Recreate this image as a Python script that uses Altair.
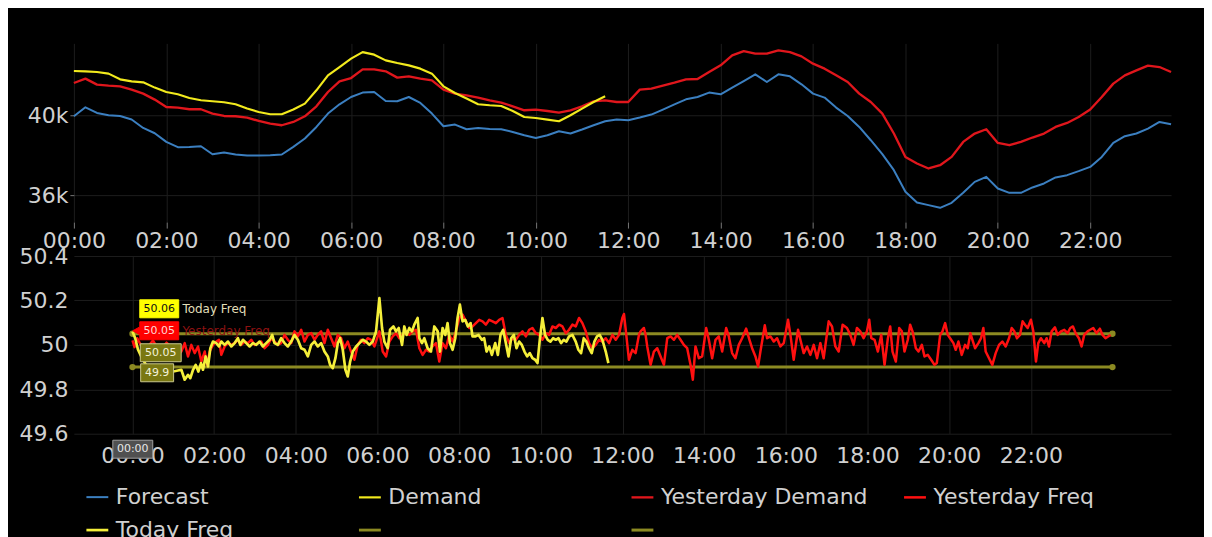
import altair as alt
import pandas as pd

FONT = "DejaVu Sans"
LBL = "#d0d0d0"
GRID = "#1d1d1d"

# ---------------- top panel: demand (15-minute steps from 00:00) ----------------
forecast = [
    39950, 40400, 40115, 40000, 39965, 39785, 39365, 39100, 38665, 38400, 38415, 38450,
    38050, 38135, 38035, 37985, 37985, 38000, 38035, 38415, 38835, 39415, 40085, 40550,
    40915, 41135, 41165, 40715, 40700, 40915, 40615, 40085, 39450, 39535, 39300, 39365,
    39315, 39300, 39165, 39000, 38865, 39000, 39200, 39085, 39285, 39500, 39700, 39785,
    39750, 39885, 40035, 40285, 40550, 40800, 40915, 41135, 41050, 41385, 41715, 42050,
    41665, 42050, 41950, 41550, 41085, 40885, 40385, 39965, 39415, 38750, 38050, 37250,
    36165, 35635, 35500, 35365, 35615, 36115, 36665, 36915, 36335, 36115, 36115, 36385,
    36585, 36885, 37000, 37200, 37415, 37915, 38615, 38950, 39085, 39335, 39665, 39550,
]
yesterday_demand = [
    41615, 41835, 41535, 41485, 41450, 41285, 41085, 40785, 40415, 40385, 40300, 40300,
    40085, 39965, 39950, 39885, 39715, 39585, 39500, 39665, 39950, 40450, 41165, 41700,
    41865, 42300, 42300, 42200, 41885, 41950, 41835, 41750, 41285, 41085, 41000, 40885,
    40750, 40635, 40450, 40250, 40285, 40215, 40135, 40250, 40450, 40700, 40750, 40665,
    40665, 41285, 41335, 41485, 41635, 41800, 41815, 42165, 42500, 43000, 43215, 43085,
    43085, 43250, 43165, 42950, 42585, 42335, 42000, 41665, 41085, 40665, 40085, 39085,
    37915, 37585, 37335, 37500, 37915, 38665, 39085, 39300, 38615, 38500, 38665, 38885,
    39085, 39415, 39615, 39915, 40285, 40915, 41585, 42000, 42250, 42485, 42415, 42165,
]
demand = [
    42215, 42200, 42165, 42085, 41800, 41700, 41650, 41385, 41165, 41050, 40865, 40750,
    40700, 40650, 40550, 40335, 40165, 40050, 40050, 40285, 40585, 41250, 42000, 42415,
    42835, 43165, 43035, 42750, 42615, 42500, 42335, 42085, 41450, 41115, 40835, 40550,
    40500, 40465, 40215, 39915, 39865, 39785, 39700, 40000, 40335, 40665, 40950,
]

# ---------------- bottom panel: frequency (minutes after 00:00, Hz) ----------------
yf_min = [
    0, 3, 7, 12, 20, 30, 40, 50, 60, 68,
    71.8, 76.7, 81.6, 86.5, 91.4, 96.3, 101.2, 106.1, 109.5, 113.4,
    118.3, 123.2, 127.1, 130.5, 135.4, 140.3, 145.2, 150.1, 154.9, 159.8,
    164.7, 169.6, 174.5, 179.4, 184.3, 189.2, 194.1, 199, 203.9, 208.7,
    213.6, 218.5, 223.4, 228.3, 233.2, 238.1, 243, 247.9, 252.8, 257.7,
    262.6, 267.5, 272.3, 277.2, 282.1, 287, 291.9, 296.8, 301.7, 306.6,
    311.4, 316.3, 321.2, 326.1, 331, 335.9, 340.8, 345.7, 350.6, 355.5,
    362.8, 367.7, 372.6, 377.5, 382.4, 387.2, 392.1, 397, 401.9, 406.8,
    411.7, 416.6, 421.5, 426.4, 431.3, 436.1, 441, 445.9, 450.8, 455.7,
    460.6, 465.5, 470.4, 475.3, 480.2, 485, 489.9, 494.8, 499.7, 504.6,
    509.5, 514.4, 519.3, 524.2, 529.1, 534, 538.8, 543.7, 548.6, 553.5,
    558.4, 563.3, 568.2, 573.1, 578, 582.9, 587.7, 592.6, 597.5, 602.4,
    607.3, 612.2, 617.1, 622, 626.9, 631.8, 636.7, 641.5, 646.4, 651.3,
    656.2, 661.1, 666, 670.9, 675.8, 680.7, 685.6, 690.5, 695.4, 700.3,
    705.2, 710.1, 714.9, 719.8, 722.2, 725.6, 729.5, 734.4, 739.3, 744.2,
    746.6, 751.5, 754, 756.4, 761.3, 766.2, 771.1, 776, 780.9, 785.8,
    790.7, 795.6, 800.4, 805.3, 810.2, 815.1, 820, 823.4, 827.3, 832.2,
    837.1, 843, 846.9, 851.8, 856.7, 861.6, 866.5, 872.4, 876.3, 881.1,
    886, 890.9, 895.8, 901.7, 906.6, 910.5, 915.4, 919.3, 922.7, 929.1,
    932.5, 937.4, 942.3, 947.2, 952.1, 957, 963.3, 966.8, 971.6, 978,
    981.4, 986.3, 991.2, 996.1, 1001, 1005.9, 1010.8, 1015.6, 1023, 1027.9,
    1032.8, 1037.7, 1043.5, 1049.9, 1054.8, 1059.6, 1064.5, 1069.4, 1074.3, 1079.2,
    1082.6, 1085.6, 1090.4, 1095.3, 1100.2, 1105.1, 1110, 1113.4, 1116.8, 1121.7,
    1126.6, 1130.5, 1134.4, 1139.3, 1142.7, 1146.2, 1151.1, 1155, 1159.9, 1163.8,
    1168.7, 1173.6, 1178.5, 1181.9, 1186.8, 1190.2, 1194.1, 1198, 1201.4, 1206.3,
    1209.7, 1213.6, 1218.5, 1223.4, 1227.3, 1231.2, 1234.2, 1238.1, 1243, 1246.9,
    1250.3, 1253.7, 1258.6, 1263.5, 1268.4, 1273.3, 1278.2, 1283.1, 1288, 1291.9,
    1295.8, 1299.7, 1304.1, 1308, 1311.4, 1315.4, 1320.2, 1323.7, 1327.6, 1331,
    1334.9, 1339.8, 1343.2, 1346.7, 1350.6, 1355.5, 1359.4, 1364.3, 1369.2, 1374.1,
    1378, 1381.9, 1385.8, 1390.7, 1394.6, 1398.5, 1403.4, 1407.3, 1411.7, 1416.6,
    1421.5, 1425.4, 1429.8, 1433.7, 1437.2,
]
yf_val = [
    50.02, 49.99, 50.03, 50.0, 49.98, 50.02, 49.97, 50.01, 49.98, 49.96,
    49.97, 50.008, 49.948, 50.0, 49.963, 49.993, 49.925, 49.97, 49.91, 49.97,
    50.0, 50.015, 50.023, 49.955, 49.993, 50.008, 50.0, 50.008, 50.023, 50.0,
    50.015, 50.008, 50.023, 50.0, 50.008, 50.015, 49.985, 50.0, 50.03, 50.015,
    50.0, 50.008, 50.045, 50.023, 50.008, 50.061, 50.038, 50.068, 50.015, 50.045,
    50.053, 50.023, 50.045, 50.061, 50.008, 50.068, 50.03, 49.993, 50.045, 50.03,
    49.985, 50.015, 49.97, 49.933, 50.0, 50.023, 50.008, 50.03, 50.023, 49.993,
    50.061, 49.97, 49.948, 50.015, 50.038, 50.053, 50.03, 50.045, 50.061, 50.045,
    50.061, 50.068, 49.985, 49.955, 49.978, 49.97, 49.993, 50.008, 49.925, 50.008,
    49.985, 50.045, 50.015, 50.061, 50.121, 50.136, 50.106, 50.076, 50.083, 50.098,
    50.113, 50.106, 50.091, 50.113, 50.106, 50.098, 50.113, 50.121, 50.045, 50.008,
    50.03, 50.023, 50.045, 50.061, 50.038, 50.068, 50.076, 50.053, 50.045, 50.023,
    50.053, 50.045, 50.083, 50.076, 50.091, 50.083, 50.053, 50.068, 50.091, 50.083,
    50.121, 50.098, 50.061, 50.008, 49.985, 50.0, 50.023, 50.015, 50.03, 50.008,
    50.045, 50.023, 50.045, 50.121, 50.139, 50.045, 49.933, 49.978, 49.963, 50.045,
    50.061, 50.076, 50.045, 49.993, 49.91, 49.97, 49.985, 49.948, 49.91, 50.03,
    50.038, 50.023, 50.045, 50.023, 50.0, 49.985, 49.91, 49.843, 49.993, 49.94,
    49.948, 50.076, 50.023, 49.94, 50.023, 50.038, 49.97, 50.076, 50.038, 49.963,
    49.94, 50.0, 50.03, 50.073, 50.023, 49.985, 49.948, 49.903, 49.97, 50.088,
    50.03, 50.038, 50.015, 50.03, 49.993, 50.008, 50.113, 50.045, 49.933, 50.068,
    50.023, 49.963, 49.993, 49.955, 50.0, 49.94, 50.008, 49.94, 50.106, 50.083,
    49.993, 49.97, 50.091, 50.076, 50.045, 50.0, 50.076, 50.061, 50.03, 50.061,
    50.113, 50.03, 50.023, 49.97, 50.045, 49.91, 50.03, 50.083, 49.97, 49.925,
    50.076, 50.061, 49.97, 50.023, 50.091, 50.061, 49.985, 49.97, 50.0, 49.948,
    49.955, 49.933, 49.91, 49.918, 50.045, 50.061, 50.098, 50.045, 50.03, 50.008,
    49.978, 50.015, 49.955, 50.0, 49.985, 50.053, 50.023, 49.985, 50.008, 50.03,
    50.076, 49.97, 49.94, 49.91, 49.963, 50.0, 50.015, 49.993, 50.03, 50.076,
    50.061, 50.03, 50.045, 50.106, 50.091, 50.076, 50.113, 50.061, 49.925, 50.008,
    50.03, 50.008, 50.03, 49.993, 50.061, 50.079, 50.045, 50.061, 50.068, 50.053,
    50.076, 50.083, 50.053, 50.03, 49.993, 50.045, 50.061, 50.068, 50.076, 50.053,
    50.073, 50.045, 50.03, 50.038, 50.045,
]
tf_min = [
    0, 4, 8, 14, 22, 30, 40, 50, 60, 71.8,
    76.7, 81.6, 85, 89, 92.9, 96.8, 100.7, 103.6, 107.5, 111,
    114.4, 118.3, 123.2, 127.1, 130.5, 135.4, 140.3, 145.2, 150.1, 154.9,
    158.4, 162.3, 167.2, 172.1, 177, 181.9, 186.8, 191.6, 196.5, 201.4,
    205.3, 208.7, 213.6, 218.5, 223.4, 228.3, 233.2, 238.1, 243, 247.9,
    252.8, 257.7, 262.6, 267.5, 272.3, 277.2, 282.1, 287, 290.4, 294.3,
    298.2, 301.7, 305.1, 309, 312.9, 316.3, 319.8, 323.7, 328.6, 333.5,
    338.4, 343.2, 348.1, 353, 357.9, 362.8, 366.7, 370.1, 375, 378.5,
    383.4, 387.2, 391.2, 396.1, 399.4, 402.8, 406.8, 410.7, 414.1, 419,
    421.5, 425.4, 428.8, 433.7, 438.6, 443.5, 448.4, 451.8, 455.7, 459.6,
    463, 466.4, 470.4, 474.3, 477.7, 481.1, 485, 488.9, 492.8, 496.8,
    499.7, 503.6, 508.5, 513.4, 516.8, 520.3, 524.2, 528.1, 533, 536.9,
    540.8, 544.7, 548.6, 552.5, 556.4, 560.4, 564.3, 568.2, 572.1, 576,
    579.9, 583.8, 587.7, 591.6, 595.1, 598.5, 602.4, 606.3, 610.2, 614.1,
    618, 622, 625.9, 629.8, 633.7, 637.6, 641.5, 646.4, 651.3, 655.2,
    659.2, 663.1, 667, 670.9, 674.8, 678.7, 682.6, 686.5, 690.5, 695.4, 699.3,
]
tf_val = [
    50.06, 50.03, 49.98, 49.94, 49.9, 49.89, 49.87, 49.9, 49.88, 49.888,
    49.843, 49.865, 49.85, 49.888, 49.91, 49.88, 49.918, 49.888, 49.948, 49.903,
    49.985, 50.015, 50.008, 49.993, 50.015, 50.0, 50.015, 49.993, 50.008, 50.03,
    50.0, 50.023, 50.008, 49.993, 50.008, 50.0, 50.015, 49.993, 50.008, 50.023,
    50.045, 50.008, 50.0, 50.03, 50.008, 49.993, 50.015, 50.045, 50.023, 49.985,
    49.978, 49.948, 50.0, 50.015, 49.993, 50.008, 49.97, 49.948, 49.91, 49.895,
    49.94, 50.008, 50.03, 49.978, 49.888, 49.858, 49.925, 49.97, 49.993, 50.008,
    50.023, 50.015, 50.0, 50.015, 50.061, 50.211, 50.076, 50.015, 49.985, 50.068,
    50.083, 50.061, 50.076, 50.0, 50.083, 50.045, 50.076, 50.061, 50.091, 50.121,
    50.03, 50.008, 50.03, 49.985, 49.97, 50.083, 50.061, 49.97, 50.076, 50.045,
    50.098, 50.008, 49.978, 50.03, 50.121, 50.181, 50.106, 50.113, 50.083, 50.098,
    50.038, 50.038, 50.045, 50.023, 50.03, 49.97, 49.993, 49.955, 50.008, 49.955,
    50.045, 50.068, 50.008, 49.948, 50.03, 50.045, 49.985, 50.015, 50.0, 49.97,
    49.948, 49.963, 49.94, 49.933, 49.918, 50.023, 50.121, 50.045, 50.023, 50.015,
    50.03, 50.023, 50.03, 50.008, 50.023, 50.015, 50.038, 50.045, 50.015, 49.978,
    49.963, 50.03, 50.015, 49.985, 49.963, 50.015, 50.038, 50.045, 50.023, 49.97, 49.918,
]
limit_upper = 50.05
limit_lower = 49.9
day_span = [0, 1440]

# tooltip texts shown at 00:00
tip_values = [50.06, 50.05, 50.05, 49.9]
tip_texts = ["50.06", "50.05", "50.05", "49.9"]
tip_names = ["Today Freq", "Yesterday Freq"]
time_tip = "00:00"

series_names = ["Forecast", "Demand", "Yesterday Demand", "Yesterday Freq",
                "Today Freq", "Upper", "Lower"]
series_colors = ["#3b7fc0", "#f2ea1d", "#e0161c", "#ff1010", "#f5ef3a",
                 "#8c8a22", "#8c8a22"]
series_widths = [2, 3, 2.5, 2, 1.6, 1.5, 1.5]

# ---------------- shared encodings ----------------
legend = alt.Legend(
    orient="none", legendX=11, legendY=442, columns=4, direction="horizontal",
    gridAlign="all", title=None, labelFont=FONT, labelFontSize=22, labelColor=LBL,
    labelLimit=400, symbolType="stroke", symbolSize=480,
    columnPadding=29, rowPadding=9, labelOffset=6, padding=0,
    labelExpr="datum.label == 'Upper' || datum.label == 'Lower' ? '' : datum.label",
)
color = alt.Color("series:N", scale=alt.Scale(domain=series_names, range=series_colors),
                  legend=legend)
stroke_w = alt.StrokeWidth("series:N",
                           scale=alt.Scale(domain=series_names, range=series_widths),
                           legend=legend)

TIME_LABEL = "(datum.value < 600 ? '0' : '') + floor(datum.value / 60) + ':00'"
axis_common = dict(labelFont=FONT, labelFontSize=22, labelColor=LBL, domain=False,
                   grid=True, gridColor=GRID, labelFlush=False, labelOverlap=False)

x_top = alt.X("minute:Q", title=None,
              scale=alt.Scale(domain=[0, 1425], nice=False, zero=False),
              axis=alt.Axis(values=list(range(0, 1321, 120)), labelExpr=TIME_LABEL,
                            ticks=True, tickSize=6, tickColor="#777777", labelPadding=2,
                            **axis_common))
y_top = alt.Y("value:Q", title=None,
              scale=alt.Scale(domain=[34650, 43600], nice=False, zero=False),
              axis=alt.Axis(values=[36000, 40000], labelExpr="datum.value / 1000 + 'k'",
                            ticks=True, tickSize=4, tickColor="#777777", labelPadding=2,
                            **axis_common))

x_bot = alt.X("minute:Q", title=None,
              scale=alt.Scale(domain=[-86.1, 1526.1], nice=False, zero=False),
              axis=alt.Axis(values=list(range(0, 1321, 120)), labelExpr=TIME_LABEL,
                            ticks=False, labelPadding=12, **axis_common))
y_bot = alt.Y("value:Q", title=None,
              scale=alt.Scale(domain=[49.6, 50.4], nice=False, zero=False),
              axis=alt.Axis(values=[49.6, 49.8, 50.0, 50.2, 50.4],
                            labelExpr="toString(round(datum.value * 10) / 10)",
                            ticks=False, labelPadding=6, **axis_common))


def frame(name, values, minutes=None):
    if minutes is None:
        minutes = [15 * i for i in range(len(values))]
    return pd.DataFrame({"minute": minutes, "value": values, "series": name})


def line(df, x, y):
    return alt.Chart(df).mark_line(strokeJoin="round").encode(
        x=x, y=y, color=color, strokeWidth=stroke_w)


top = alt.layer(
    line(frame("Forecast", forecast), x_top, y_top),
    line(frame("Yesterday Demand", yesterday_demand), x_top, y_top),
    line(frame("Demand", demand), x_top, y_top),
).properties(width=1099, height=179)

olive_df = pd.concat([
    frame("Upper", [limit_upper, limit_upper], day_span),
    frame("Lower", [limit_lower, limit_lower], day_span),
])
olive = alt.Chart(olive_df).mark_line(
    point=alt.OverlayMarkDef(filled=True, size=40)
).encode(x=x_bot, y=y_bot, color=color, strokeWidth=stroke_w, detail="series:N")


def rect_path(w, h, pointer=False):
    hh = round(h / w, 3)
    if pointer:
        return f"M-1,-{hh}L1,-{hh}L1,{hh}L-1,{hh}L-1,0.2L-1.36,0L-1,-0.2Z"
    return f"M-1,-{hh}L1,-{hh}L1,{hh}L-1,{hh}Z"


def tip_box(value, text, w, h, xoff, yoff, fill, stroke, txt_color, pointer=False):
    df = pd.DataFrame({"minute": [0], "value": [value], "label": [text]})
    base = alt.Chart(df)
    box = base.mark_point(shape=rect_path(w, h, pointer), filled=True, fill=fill,
                          stroke=stroke, strokeWidth=1, size=w * w, opacity=1,
                          xOffset=xoff, yOffset=yoff).encode(x=x_bot, y=y_bot)
    lab = base.mark_text(font=FONT, fontSize=11, color=txt_color, align="center",
                         baseline="middle", xOffset=xoff, yOffset=yoff).encode(
        x=x_bot, y=y_bot, text="label:N")
    return [box, lab]


def tip_name(value, text, xoff, yoff, col):
    df = pd.DataFrame({"minute": [0], "value": [value], "label": [text]})
    return alt.Chart(df).mark_text(font=FONT, fontSize=12, color=col, align="left",
                                   baseline="middle", xOffset=xoff, yOffset=yoff).encode(
        x=x_bot, y=y_bot, text="label:N")


tips = []
tips += tip_box(tip_values[0], tip_texts[0], 39, 18, 26.8, -22.8, "#ffff00", "#ffff00", "#111111")
tips += tip_box(tip_values[1], tip_texts[1], 39, 18, 26.8, -3, "#ff0000", "#ff0000", "#ffd6d6", True)
tips += tip_box(tip_values[2], tip_texts[2], 41, 18, 28.3, 19, "#7a7812", "#c9c78c", "#f2f2d8")
tips += tip_box(tip_values[3], tip_texts[3], 33, 18, 24.7, 5.7, "#7a7812", "#c9c78c", "#f2f2d8")
tips.append(tip_name(tip_values[0], tip_names[0], 50, -22.8, "#e2dfb8"))
tips.append(tip_name(tip_values[1], tip_names[1], 50, -3, "#8e1212"))
tips += tip_box(49.6, time_tip, 40, 18, 0.3, 15.5, "#505050", "#a0a0a0", "#e6e6e6")

bottom = alt.layer(
    olive,
    line(frame("Yesterday Freq", yf_val, yf_min), x_bot, y_bot),
    line(frame("Today Freq", tf_val, tf_min), x_bot, y_bot),
    *tips,
).properties(width=1099, height=178)

chart = alt.vconcat(top, bottom, spacing=34, bounds="flush").configure(
    background="#000000", font=FONT,
    padding={"left": 11, "top": 35, "right": 31, "bottom": 0},
).configure_view(strokeWidth=0)

chart.save("out.html", embed_options={"renderer": "svg", "actions": False})
